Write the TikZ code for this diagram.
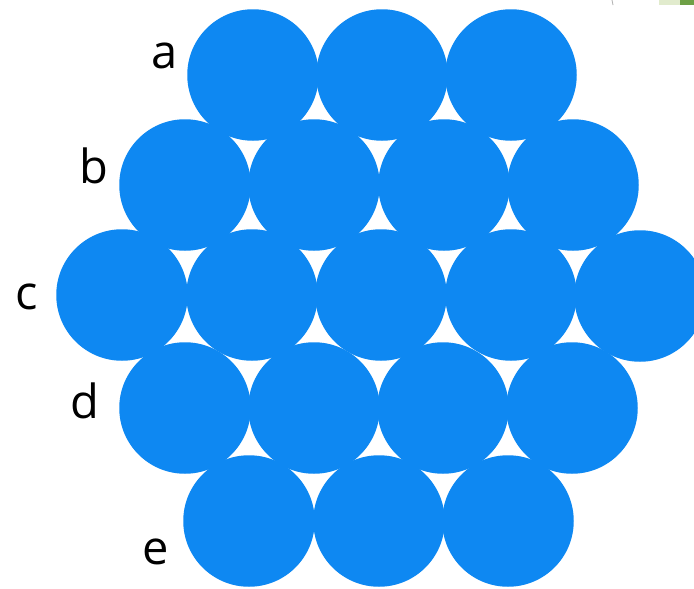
\documentclass[tikz,border=0pt]{standalone}
\usepackage{fontspec}
\setmainfont{Open Sans}
\definecolor{ballblue}{RGB}{14,136,242}
\definecolor{leafgreen}{RGB}{110,160,70}
\definecolor{leaflight}{RGB}{225,235,205}
\begin{document}
\begin{tikzpicture}[x=1pt,y=-1pt,
  ball/.style={circle,fill=ballblue,minimum size=131.5pt,inner sep=0pt,draw=none},
  lbl/.style={anchor=base,inner sep=0pt,font=\fontsize{47}{47}\selectfont}]
\useasboundingbox (0,0) rectangle (694,589);
\fill[white] (0,0) rectangle (694,589);
% row a
\node[ball] (a1) at (253,75) {};
\node[ball] (a2) at (382,75) {};
\node[ball] (a3) at (511,75) {};
% row b
\node[ball] (b1) at (185,185) {};
\node[ball] (b2) at (314,185) {};
\node[ball] (b3) at (444,185) {};
\node[ball] (b4) at (573,185) {};
% row c
\node[ball] (c1) at (122,295) {};
\node[ball] (c2) at (252,295) {};
\node[ball] (c3) at (381,295) {};
\node[ball] (c4) at (511,295) {};
\node[ball] (c5) at (640,296) {};
% row d
\node[ball] (d1) at (185,408) {};
\node[ball] (d2) at (314,408) {};
\node[ball] (d3) at (443,408) {};
\node[ball] (d4) at (572,408) {};
% row e
\node[ball] (e1) at (249,521) {};
\node[ball] (e2) at (379,521) {};
\node[ball] (e3) at (508,521) {};
% labels
\node[lbl] (la) at (164.5,68) {a};
\node[lbl] (lb) at (93.5,183) {b};
\node[lbl] (lc) at (27,309) {c};
\node[lbl] (ld) at (84.5,418) {d};
\node[lbl] (le) at (156,564) {e};
% corner fragments
\fill[leaflight] (659,0) rectangle (680,5);
\fill[leafgreen] (680,0) rectangle (694,5);
\draw[gray!60,line width=0.8pt] (612,0) -- (613,5);
\end{tikzpicture}
\end{document}
